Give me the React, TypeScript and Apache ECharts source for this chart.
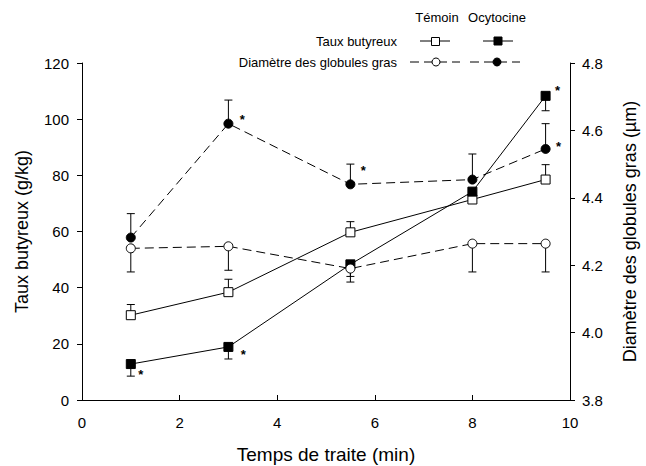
import React, { useEffect, useRef } from "react";
import * as echarts from "echarts";

const times = [1, 3, 5.5, 8, 9.5];
const tauxTemoin = [30.2, 38.4, 59.7, 71.4, 78.5];
const tauxTemoinErr = [34, 43, 63.5, 73, 83.8];
const tauxOcy = [12.8, 18.9, 48.3, 74.2, 108.3];
const tauxOcyErr = [8.5, 14.6, 44, 72, 103];
const diamTemoin = [4.25, 4.256, 4.19, 4.264, 4.264];
const diamTemoinErr = [4.18, 4.185, 4.15, 4.18, 4.18];
const diamOcy = [4.282, 4.62, 4.44, 4.454, 4.545];
const diamOcyErr = [4.353, 4.69, 4.5, 4.53, 4.62];
const tauxStarIdx = [0, 1, 4];
const diamStarIdx = [1, 2, 4];

const xTicks = { min: 0, max: 10, interval: 2 };
const leftTicks = { min: 0, max: 120, interval: 20 };
const rightTicks = { min: 3.8, max: 4.8, interval: 0.2 };

const FONT = "Liberation Sans";
// pixel offsets of significance stars (style only)
const tauxStarOffsets = [[10, 10], [15, 8], [12, -5]];
const diamStarOffsets = [[14, -4], [13, -14], [13, -2]];

function errSeries(vals: number[], ends: number[], yAxisIndex: number) {
  return {
    type: "custom",
    yAxisIndex,
    silent: true,
    z: 1,
    data: times.map((t, i) => [t, vals[i], ends[i]]),
    encode: { x: 0, y: [1, 2] },
    renderItem: (params: any, api: any) => {
      const p0 = api.coord([api.value(0), api.value(1)]);
      const p1 = api.coord([api.value(0), api.value(2)]);
      return {
        type: "group",
        children: [
          { type: "line", shape: { x1: p0[0], y1: p0[1], x2: p1[0], y2: p1[1] }, style: { stroke: "#000", lineWidth: 1 } },
          { type: "line", shape: { x1: p1[0] - 4, y1: p1[1], x2: p1[0] + 4, y2: p1[1] }, style: { stroke: "#000", lineWidth: 1 } },
        ],
      };
    },
  };
}

function starSeries(vals: number[], idx: number[], offsets: number[][], yAxisIndex: number) {
  return {
    type: "custom",
    yAxisIndex,
    silent: true,
    z: 5,
    data: idx.map((i, k) => [times[i], vals[i], k]),
    encode: { x: 0, y: 1 },
    renderItem: (params: any, api: any) => {
      const p = api.coord([api.value(0), api.value(1)]);
      const off = offsets[api.value(2)];
      return {
        type: "text",
        style: {
          text: "*",
          x: p[0] + off[0],
          y: p[1] + off[1],
          font: `bold 13px ${FONT}`,
          fill: "#000",
          textAlign: "center",
          textVerticalAlign: "middle",
        },
      };
    },
  };
}

function lineSeries(vals: number[], yAxisIndex: number, symbol: string, filled: boolean, dashed: boolean) {
  return {
    type: "line",
    yAxisIndex,
    z: 3,
    data: times.map((t, i) => [t, vals[i]]),
    symbol,
    symbolSize: 9,
    showAllSymbol: true,
    lineStyle: { color: "#000", width: 1, type: dashed ? [9, 5] : "solid" },
    itemStyle: { color: filled ? "#000" : "#fff", borderColor: "#000", borderWidth: 1 },
  };
}

export default function App() {
  const ref = useRef<HTMLDivElement>(null);
  useEffect(() => {
    if (!ref.current) return;
    const chart = echarts.init(ref.current, undefined, { renderer: "svg" });
    const axisLabel = { color: "#000", fontSize: 15, fontFamily: FONT };
    const nameStyle = { color: "#000", fontSize: 18, fontFamily: FONT };
    const legendFont = `13px ${FONT}`;
    const option: any = {
      animation: false,
      backgroundColor: "#fff",
      textStyle: { fontFamily: FONT, color: "#000" },
      grid: { left: 82, right: 76, top: 63, bottom: 66, outerBoundsMode: "none", containLabel: false },
      xAxis: {
        type: "value",
        ...xTicks,
        name: "Temps de traite (min)",
        nameLocation: "middle",
        nameGap: 45,
        nameTextStyle: { ...nameStyle, fontSize: 19 },
        axisLine: { show: true, lineStyle: { color: "#000", width: 1 } },
        axisTick: { show: true, inside: true, length: 5, lineStyle: { color: "#000" } },
        axisLabel: { ...axisLabel, margin: 15 },
        splitLine: { show: false },
      },
      yAxis: [
        {
          type: "value",
          position: "left",
          ...leftTicks,
          name: "Taux butyreux (g/kg)",
          nameLocation: "middle",
          nameGap: 51,
          nameTextStyle: nameStyle,
          axisLine: { show: true, lineStyle: { color: "#000", width: 1 } },
          axisTick: { show: true, length: 5, lineStyle: { color: "#000" } },
          axisLabel: { ...axisLabel, margin: 13 },
          splitLine: { show: false },
        },
        {
          type: "value",
          position: "right",
          ...rightTicks,
          name: "Diamètre des globules gras (µm)",
          nameLocation: "middle",
          nameGap: 51,
          nameRotate: 90,
          nameTextStyle: nameStyle,
          axisLine: { show: true, lineStyle: { color: "#000", width: 1 } },
          axisTick: { show: true, length: 5, lineStyle: { color: "#000" } },
          axisLabel: { ...axisLabel, margin: 12, formatter: (v: number) => v.toFixed(1) },
          splitLine: { show: false },
        },
      ],
      series: [
        errSeries(tauxTemoin, tauxTemoinErr, 0),
        errSeries(tauxOcy, tauxOcyErr, 0),
        errSeries(diamTemoin, diamTemoinErr, 1),
        errSeries(diamOcy, diamOcyErr, 1),
        lineSeries(tauxTemoin, 0, "rect", false, false),
        lineSeries(tauxOcy, 0, "rect", true, false),
        lineSeries(diamTemoin, 1, "circle", false, true),
        lineSeries(diamOcy, 1, "circle", true, true),
        starSeries(tauxOcy, tauxStarIdx, tauxStarOffsets, 0),
        starSeries(diamOcy, diamStarIdx, diamStarOffsets, 1),
      ],
      graphic: [
        { type: "text", x: 437, y: 17, style: { text: "Témoin", font: legendFont, fill: "#000", textAlign: "center", textVerticalAlign: "middle" } },
        { type: "text", x: 497, y: 17, style: { text: "Ocytocine", font: legendFont, fill: "#000", textAlign: "center", textVerticalAlign: "middle" } },
        { type: "text", x: 397, y: 41, style: { text: "Taux butyreux", font: legendFont, fill: "#000", textAlign: "right", textVerticalAlign: "middle" } },
        { type: "text", x: 397, y: 62, style: { text: "Diamètre des globules gras", font: legendFont, fill: "#000", textAlign: "right", textVerticalAlign: "middle" } },
        { type: "line", shape: { x1: 420, y1: 41, x2: 450, y2: 41 }, style: { stroke: "#000", lineWidth: 1 } },
        { type: "rect", shape: { x: 431.5, y: 37.5, width: 8, height: 8 }, style: { fill: "#fff", stroke: "#000", lineWidth: 1 } },
        { type: "line", shape: { x1: 483, y1: 41, x2: 513, y2: 41 }, style: { stroke: "#000", lineWidth: 1 } },
        { type: "rect", shape: { x: 494, y: 37, width: 8, height: 8 }, style: { fill: "#000", stroke: "#000", lineWidth: 1 } },
        { type: "line", shape: { x1: 410, y1: 62, x2: 460, y2: 62 }, style: { stroke: "#000", lineWidth: 1, lineDash: [9, 5] } },
        { type: "circle", shape: { cx: 436, cy: 62, r: 4 }, style: { fill: "#fff", stroke: "#000", lineWidth: 1 } },
        { type: "line", shape: { x1: 470, y1: 62, x2: 520, y2: 62 }, style: { stroke: "#000", lineWidth: 1, lineDash: [9, 5] } },
        { type: "circle", shape: { cx: 497, cy: 62, r: 4 }, style: { fill: "#000", stroke: "#000", lineWidth: 1 } },
      ],
    };
    chart.setOption(option);
    return () => chart.dispose();
  }, []);
  return (
    <div
      ref={ref}
      style={{ position: "fixed", left: 0, top: 0, width: 646, height: 466, background: "#fff" }}
    />
  );
}
